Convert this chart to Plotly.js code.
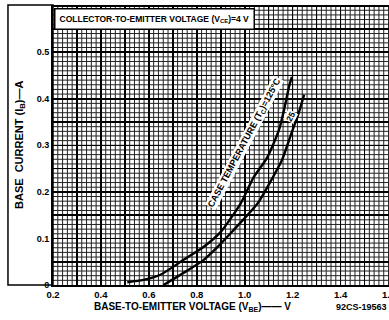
<!DOCTYPE html>
<html>
<head>
<meta charset="utf-8">
<script src="https://cdn.plot.ly/plotly-3.0.1.min.js"></script>
<style>html,body{margin:0;padding:0;background:#fff;}#chart{width:389px;height:320px;}</style>
</head>
<body>
<div id="chart"></div>
<script>
// Base-to-emitter voltage (V) and base current (A)
const vbe125 = [0.51, 0.577, 0.648, 0.745, 0.829, 0.900, 0.984, 1.038, 1.093, 1.143, 1.164, 1.185, 1.197];
const ib125  = [0.006, 0.011, 0.022, 0.054, 0.082, 0.114, 0.176, 0.232, 0.273, 0.333, 0.376, 0.426, 0.447];
const vbe25  = [0.661, 0.745, 0.829, 0.887, 0.950, 1.055, 1.118, 1.156, 1.193, 1.223, 1.248];
const ib25   = [0.0, 0.026, 0.054, 0.082, 0.116, 0.176, 0.232, 0.269, 0.323, 0.366, 0.409];

const xTickVals = [0.2,0.3,0.4,0.5,0.6,0.7,0.8,0.9,1.0,1.1,1.2,1.3,1.4,1.5,1.6];
const xTickText = ['0.2','','0.4','','0.6','','0.8','','1.0','','1.2','','1.4','','1.6'];
const yTickVals = [0,0.05,0.1,0.15,0.2,0.25,0.3,0.35,0.4,0.45,0.5,0.55];
const yTickText = ['0','','0.1','','0.2','','0.3','','0.4','','0.5',''];

const xRange = [0.2, 1.602];
const yRange = [0, 0.597];
const xFineStep = 0.02;   // fine graph-paper divisions
const yFineStep = 0.01;

const font = 'Liberation Sans, Arial, sans-serif';
const lineStyle = {color:'#000', width:2.4, shape:'spline', smoothing:0.6};

// fine graph-paper grid as shapes placed on the axes
const fineGrid = [];
for (let i = 1; 0.2 + i * xFineStep < xRange[1]; i++) {
  const v = +(0.2 + i * xFineStep).toFixed(3);
  fineGrid.push({type:'line', xref:'x', yref:'paper', x0:v, x1:v, y0:0, y1:1, layer:'below',
                 line:{color:'#222', width:1}});
}
for (let i = 1; i * yFineStep < yRange[1]; i++) {
  const v = +(i * yFineStep).toFixed(3);
  fineGrid.push({type:'line', xref:'paper', yref:'y', x0:0, x1:1, y0:v, y1:v, layer:'below',
                 line:{color:'#222', width:1}});
}

const data = [
  {x: vbe125, y: ib125, mode:'lines', line: lineStyle, hoverinfo:'skip', showlegend:false},
  {x: vbe25,  y: ib25,  mode:'lines', line: lineStyle, hoverinfo:'skip', showlegend:false}
];

const layout = {
  width: 389, height: 320,
  margin: {l:53, r:0, t:7, b:35},
  paper_bgcolor:'#fff', plot_bgcolor:'#fff',
  showlegend:false,
  font: {family: font, size: 8, color:'#000'},
  xaxis: {
    range:xRange, tickmode:'array', tickvals:xTickVals, ticktext:xTickText,
    showgrid:true, gridcolor:'#000', gridwidth:1.6,
    showline:true, linecolor:'#000', linewidth:2, mirror:true,
    ticks:'', zeroline:false, ticklabeloverflow:'allow',
    tickfont:{family:font, size:9.5, color:'#000', weight:'bold'},
    title:{text:''}
  },
  yaxis: {
    range:yRange, tickmode:'array', tickvals:yTickVals, ticktext:yTickText,
    showgrid:true, gridcolor:'#000', gridwidth:1.6,
    showline:true, linecolor:'#000', linewidth:2, mirror:true,
    ticks:'', zeroline:false,
    tickfont:{family:font, size:9, color:'#000', weight:'bold'},
    title:{text:''}
  },
  shapes: fineGrid.concat([
    {type:'rect', xref:'paper', yref:'paper', x0:-0.134, x1:0, y0:0, y1:1.007,
     line:{color:'#000', width:1.5}, fillcolor:'rgba(0,0,0,0)'}
  ]),
  annotations: [
    {xref:'paper', yref:'paper', x:0.003, y:0.997, xanchor:'left', yanchor:'top',
     text:'COLLECTOR-TO-EMITTER VOLTAGE (V<sub>CE</sub>)=4 V', showarrow:false,
     bgcolor:'#fff', bordercolor:'#000', borderwidth:1.5, borderpad:4,
     font:{family:font, size:8.5, color:'#000', weight:'bold'}},
    {x:1.000, y:0.306, text:'CASE TEMPERATURE (T<sub>C</sub>)=125°C', showarrow:false,
     textangle:-62, bgcolor:'#fff', borderpad:0,
     font:{family:font, size:9, color:'#000', weight:'bold'}},
    {x:1.194, y:0.362, text:'25', showarrow:false, textangle:-62, bgcolor:'#fff', borderpad:0,
     font:{family:font, size:8.5, color:'#000', weight:'bold'}},
    {xref:'paper', yref:'paper', x:-0.10, y:0.505, xanchor:'center', yanchor:'middle',
     text:'BASE  CURRENT (I<sub>B</sub>)—A', textangle:-90, showarrow:false,
     font:{family:font, size:11, color:'#000', weight:'bold'}},
    {xref:'paper', yref:'paper', x:0.415, y:-0.078, xanchor:'center', yanchor:'middle',
     text:'BASE-TO-EMITTER VOLTAGE (V<sub>BE</sub>)—— V', showarrow:false,
     font:{family:font, size:10, color:'#000', weight:'bold'}},
    {xref:'paper', yref:'paper', x:1.0, y:-0.078, xanchor:'right', yanchor:'middle',
     text:'92CS-19563', showarrow:false,
     font:{family:font, size:9, color:'#000', weight:'bold'}}
  ]
};

Plotly.newPlot('chart', data, layout, {displayModeBar:false, staticPlot:true});
</script>
</body>
</html>
